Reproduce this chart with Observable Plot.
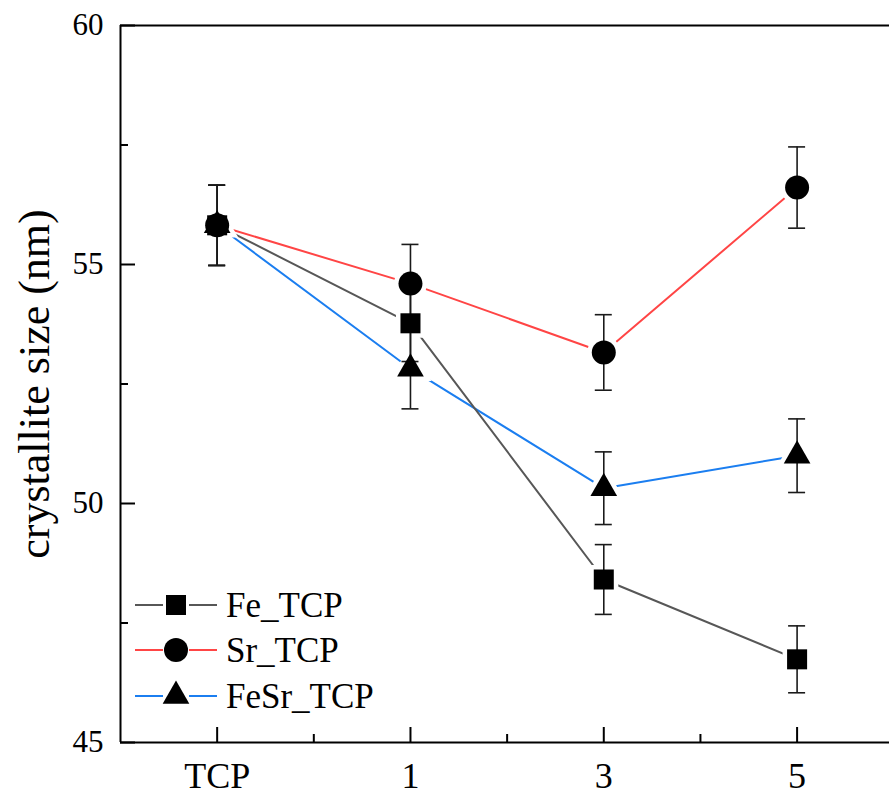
<!DOCTYPE html>
<html>
<head>
<meta charset="utf-8">
<script src="https://cdn.jsdelivr.net/npm/d3@7"></script>
<script src="https://cdn.jsdelivr.net/npm/@observablehq/plot@0.6"></script>
<style>
  #wrap svg text, #wrap svg { font-family: "Liberation Serif" !important; }
</style>
</head>
<body style="margin:0">
<div id="wrap" style="position:relative;width:889px;height:796px;font-family:'Liberation Serif'"></div>
<script>
// ---- data ----
const categories = ["TCP", "1", "3", "5"];
const seriesNames = ["Fe_TCP", "Sr_TCP", "FeSr_TCP"];
const feValues   = [55.82, 53.77, 48.41, 46.74];
const feErrors   = [0.84, 0.80, 0.73, 0.70];
const srValues   = [55.82, 54.60, 53.16, 56.61];
const srErrors   = [0.84, 0.82, 0.79, 0.85];
const fesrValues = [55.82, 52.82, 50.32, 51.00];
const fesrErrors = [0.84, 0.84, 0.76, 0.77];
const yMajorTicks = [45, 50, 55, 60];
const yMinorTicks = [47.5, 52.5, 57.5];
const xMajorTicks = [0, 1, 2, 3];
const xMinorTicks = [0.5, 1.5, 2.5];

// ---- styles ----
const fontFam = "Liberation Serif";
const colors = ["#575757", "#ff4545", "#1b7ef0"];
const symbols = ["square", "circle", "triangle"];
const radii = {"Fe_TCP": 11.3, "Sr_TCP": 12, "FeSr_TCP": 9.9};
const xDomain = [-0.5, 3.478];
const yDomain = [45, 60];

const valueSets = {"Fe_TCP": [feValues, feErrors], "Sr_TCP": [srValues, srErrors], "FeSr_TCP": [fesrValues, fesrErrors]};
const drawOrder = ["FeSr_TCP", "Sr_TCP", "Fe_TCP"];
const rows = [];
for (const s of drawOrder) {
  const [vals, errs] = valueSets[s];
  vals.forEach((v, i) => rows.push({series: s, x: i, y: v, err: errs[i]}));
}

const axisColor = "#000";
const chart = Plot.plot({
  width: 889,
  height: 796,
  marginLeft: 120,
  marginRight: 0,
  marginTop: 25,
  marginBottom: 54,
  style: {fontFamily: fontFam, fontSize: "30px", background: "white", color: "black"},
  x: {type: "linear", domain: xDomain},
  y: {domain: yDomain},
  color: {domain: seriesNames, range: colors},
  symbol: {domain: seriesNames, range: symbols},
  r: {type: "identity"},
  marks: [
    Plot.ruleX([xDomain[0]], {stroke: axisColor, strokeWidth: 2}),
    Plot.ruleY([yDomain[0]], {stroke: axisColor, strokeWidth: 2}),
    Plot.ruleY([yDomain[1]], {stroke: axisColor, strokeWidth: 2}),
    Plot.ruleX(xMajorTicks, {x: d => d, y1: yDomain[0], y2: yDomain[0], insetBottom: 15, stroke: axisColor, strokeWidth: 2}),
    Plot.ruleX(xMinorTicks, {x: d => d, y1: yDomain[0], y2: yDomain[0], insetBottom: 8, stroke: axisColor, strokeWidth: 2}),
    Plot.ruleY(yMajorTicks, {y: d => d, x1: xDomain[0], x2: xDomain[0], insetRight: -15, stroke: axisColor, strokeWidth: 2}),
    Plot.ruleY(yMinorTicks, {y: d => d, x1: xDomain[0], x2: xDomain[0], insetRight: -8, stroke: axisColor, strokeWidth: 2}),
    Plot.axisY(yMajorTicks, {tickSize: 0, tickPadding: 17, fontSize: 31, fontFamily: fontFam, label: null, tickFormat: d => String(d)}),
    Plot.axisX(xMajorTicks, {tickSize: 0, tickPadding: 20, fontSize: 36, fontFamily: fontFam, label: null, tickFormat: i => categories[i]}),
    Plot.text(["crystallite size (nm)"], {text: d => d, frameAnchor: "left", rotate: -90, dx: -86, fontSize: 44, fontFamily: fontFam, textAnchor: "middle", lineAnchor: "middle"}),
    Plot.line(rows, {x: "x", y: "y", z: "series", stroke: "series", strokeWidth: 2}),
    Plot.dot(rows, {x: "x", y: "y", symbol: "series", r: d => radii[d.series], fill: "white", stroke: "white", strokeWidth: 9}),
    Plot.ruleX(rows, {x: "x", y1: d => d.y - d.err, y2: d => d.y + d.err, stroke: "#1a1a1a", strokeWidth: 1.6}),
    Plot.ruleY(rows, {x1: "x", x2: "x", y: d => d.y + d.err, insetLeft: -8.5, insetRight: -8.5, stroke: "#1a1a1a", strokeWidth: 1.6}),
    Plot.ruleY(rows, {x1: "x", x2: "x", y: d => d.y - d.err, insetLeft: -8.5, insetRight: -8.5, stroke: "#1a1a1a", strokeWidth: 1.6}),
    Plot.dot(rows, {x: "x", y: "y", symbol: "series", r: d => radii[d.series], fill: "black", stroke: "none"})
  ]
});
const wrap = document.getElementById("wrap");
wrap.appendChild(chart);

// ---- legend (overlay) ----
const legendRowsY = [605, 650, 696];
const lg = d3.select(wrap).append("svg")
  .attr("width", 889).attr("height", 796)
  .style("position", "absolute").style("left", "0px").style("top", "0px");
const symbolTypes = {square: d3.symbolSquare, circle: d3.symbolCircle, triangle: d3.symbolTriangle};
seriesNames.forEach((name, i) => {
  const g = lg.append("g").attr("transform", `translate(0,${legendRowsY[i]})`);
  g.append("line").attr("x1", 135).attr("x2", 163).attr("y1", 0).attr("y2", 0).attr("stroke", colors[i]).attr("stroke-width", 2);
  g.append("line").attr("x1", 189).attr("x2", 217).attr("y1", 0).attr("y2", 0).attr("stroke", colors[i]).attr("stroke-width", 2);
  const r = radii[name];
  g.append("path").attr("transform", "translate(176,0)")
    .attr("d", d3.symbol(symbolTypes[symbols[i]], Math.PI * r * r)())
    .attr("fill", "black");
  g.append("text").attr("x", 226).attr("y", 0).attr("dy", "0.35em")
    .attr("font-family", fontFam)
    .attr("font-size", 35).attr("fill", "black").text(name);
});
</script>
</body>
</html>
